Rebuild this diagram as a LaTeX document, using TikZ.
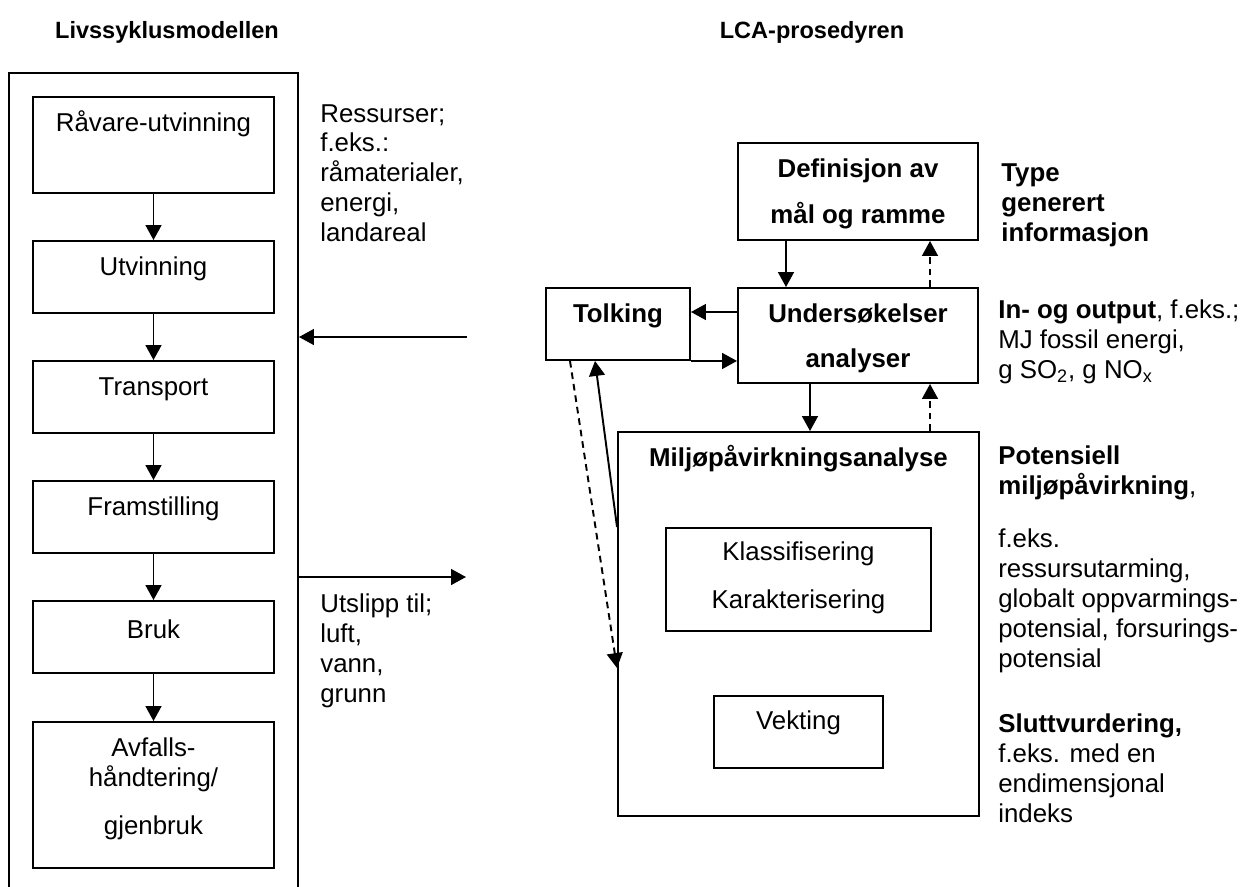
\documentclass[tikz,border=0pt]{standalone}
\usepackage{fontspec}
\setmainfont{Liberation Sans}
\usetikzlibrary{arrows.meta,fit}
\newcommand{\bodyfs}{\fontsize{14.7pt}{17pt}\selectfont}
\newcommand{\titlefs}{\fontsize{13.4pt}{16pt}\selectfont\bfseries}
\begin{document}
\begin{tikzpicture}[x=0.02cm,y=-0.02cm,
  every node/.append style={inner sep=0pt, font=\bodyfs},
  box/.style={draw, line width=1.1pt, inner sep=0pt},
  lbl/.style={anchor=center, align=center},
  side/.style={anchor=west, align=left},
  arr/.style={line width=1.1pt, -{Triangle[length=8.5pt,width=9pt]}},
  darr/.style={arr, dash pattern=on 3.8pt off 2.8pt}]
\useasboundingbox (0,0) rectangle (1254,886);
\fill[white] (0,0) rectangle (1254,886);

% titles
\node[font=\titlefs] (t1) at (167,32) {Livssyklusmodellen};
\node[font=\titlefs] (t2) at (812,32) {LCA-prosedyren};

% life cycle model
\node[box, fit={(9,73) (298,905)}] (life) {};
\node[box, fit={(33,97) (274,193)}] (rav) {};
\node[box, fit={(33,241) (274,313)}] (utv) {};
\node[box, fit={(33,361) (274,433)}] (tra) {};
\node[box, fit={(33,481) (274,553)}] (fra) {};
\node[box, fit={(33,601) (274,673)}] (bru) {};
\node[box, fit={(33,722) (274,868)}] (avf) {};
\node[lbl] (ravt) at (153.5,124) {Råvare-utvinning};
\node[lbl] (utvt) at (153.5,269) {Utvinning};
\node[lbl] (trat) at (153.5,389) {Transport};
\node[lbl] (frat) at (153.5,509) {Framstilling};
\node[lbl] (brut) at (153.5,629) {Bruk};
\node[lbl] (avft) at (153.5,765) {Avfalls-\\håndtering/};
\node[lbl] (avft2) at (153.5,828) {gjenbruk};
\draw[arr] (rav) -- (utv);
\draw[arr] (utv) -- (tra);
\draw[arr] (tra) -- (fra);
\draw[arr] (fra) -- (bru);
\draw[arr] (bru) -- (avf);

\node[side] (res) at (320,173) {Ressurser;\\f.eks.:\\råmaterialer,\\energi,\\landareal};
\node[side] (uts) at (320,651) {Utslipp til;\\luft,\\vann,\\grunn};
\coordinate (resin) at (467,337);
\coordinate (utout) at (466,577);
\draw[arr] (resin) -- (resin -| life.east);
\draw[arr] (utout -| life.east) -- (utout);

% LCA procedure
\node[box, fit={(738,143) (978,240)}] (def) {};
\node[box, fit={(738,288) (978,383)}] (und) {};
\node[box, fit={(546,288) (690,360)}] (tol) {};
\node[box, fit={(618,432) (979,816)}] (mil) {};
\node[box, fit={(666,528) (931,631)}] (kla) {};
\node[box, fit={(714,696) (883,768)}] (vek) {};
\node[lbl, font=\bodyfs\bfseries] (deft) at (858,194) {Definisjon av\\[9.6pt]mål og ramme};
\node[lbl, font=\bodyfs\bfseries] (undt) at (858,338) {Undersøkelser\\[8.5pt]analyser};
\node[lbl, font=\bodyfs\bfseries] (tolt) at (618,316) {Tolking};
\node[lbl, font=\bodyfs\bfseries] (milt) at (798.5,459) {Miljøpåvirkningsanalyse};
\node[lbl] (klat) at (798.5,578) {Klassifisering\\[10pt]Karakterisering};
\node[lbl] (vekt) at (798.5,723) {Vekting};

\coordinate (xa) at (786,0);
\coordinate (xb) at (930,0);
\coordinate (xc) at (810,0);
\coordinate (ya) at (0,312);
\coordinate (xd) at (595,0);
\coordinate (xe) at (570,0);
\coordinate (yb) at (0,668);
\draw[arr] (xa |- def.south) -- (xa |- und.north);
\draw[darr] (xb |- und.north) -- (xb |- def.south);
\draw[arr] (und.west |- ya) -- (tol.east |- ya);
\draw[arr] (tol.south east) -- (und.west |- tol.south);
\draw[arr] (xc |- und.south) -- (xc |- mil.north);
\draw[darr] (xb |- mil.north) -- (xb |- und.south);
\draw[arr] (mil.west |- kla.north) -- (tol.south -| xd);
\draw[darr] (tol.south -| xe) -- (mil.west |- yb);

% right column
\node[side, font=\bodyfs\bfseries] (typ) at (1001,205) {Type\\generert\\informasjon};
\node[side] (io) at (998,342) {\textbf{In- og output}, f.eks.;\\MJ fossil energi,\\g SO\textsubscript{2}, g NO\textsubscript{x}};
\node[side, font=\bodyfs\bfseries] (pot) at (998,473) {Potensiell\\miljøpåvirkning\textmd{,}};
\node[side] (feks) at (998,601) {f.eks.\\ressursutarming,\\globalt oppvarmings-\\potensial, forsurings-\\potensial};
\node[side] (slu) at (998,768) {\textbf{Sluttvurdering,}\\f.eks. med en\\endimensjonal\\indeks};
\end{tikzpicture}
\end{document}
